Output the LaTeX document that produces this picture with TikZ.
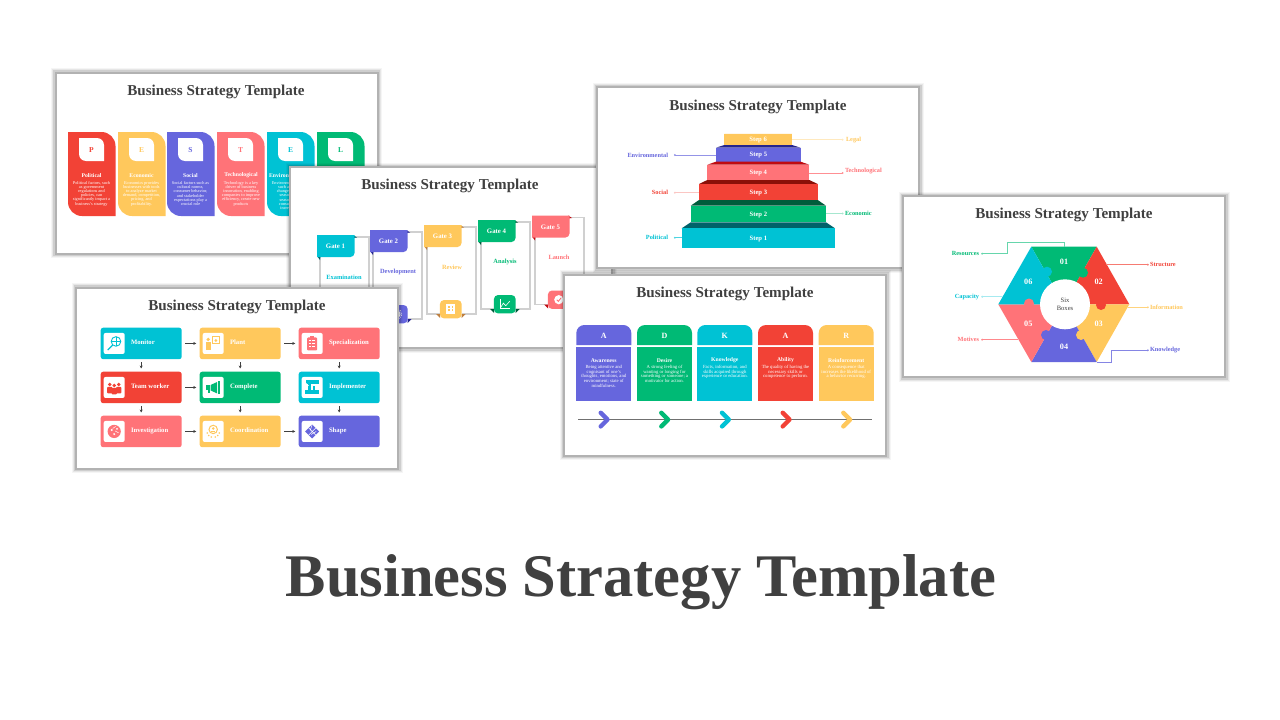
\documentclass[tikz,border=0pt]{standalone}
\usepackage{fontspec}
\setmainfont{Liberation Serif}
\usetikzlibrary{arrows.meta}
\definecolor{redfill}{HTML}{F24236}
\definecolor{yellowfill}{HTML}{FFC85C}
\definecolor{purplefill}{HTML}{6666DD}
\definecolor{pinkfill}{HTML}{FF7378}
\definecolor{cyanfill}{HTML}{00C2D4}
\definecolor{greenfill}{HTML}{00BA75}
\definecolor{navydark}{HTML}{24248F}
\definecolor{pinkdark}{HTML}{C00A10}
\definecolor{reddark}{HTML}{8B1008}
\definecolor{greendark}{HTML}{005C3C}
\definecolor{cyandark}{HTML}{00626A}
\definecolor{titlegrey}{HTML}{404040}
\definecolor{framegrey}{HTML}{B2B2B2}
\definecolor{railgrey}{HTML}{D0D0D0}
\newcommand{\px}[1]{\fontsize{#1}{#1}\selectfont}
\tikzset{
    every node/.style = {
        inner sep = 0pt,
        outer sep = 0pt
    },
    slide/.style = {
        preaction = {draw=black, opacity=0.04, line width=9pt},
        preaction = {draw=black, opacity=0.06, line width=7pt},
        preaction = {draw=black, opacity=0.10, line width=5pt},
        draw = framegrey,
        fill = white,
        line width = 2pt,
        minimum width = 322pt,
        minimum height = 181pt
    },
    slide title/.style = {
        text = titlegrey,
        font = \px{15.1}\bfseries
    },
    body text/.style = {
        text = white,
        align = center,
        font = \fontsize{4.3}{4.2}\selectfont
    },
    head text/.style = {
        text = white,
        font = \px{5.7}\bfseries
    },
    gridcard/.style = {
        rounded corners = 2.5pt,
        minimum width = 81pt,
        minimum height = 31.5pt
    },
    gridtile/.style = {
        fill = white,
        rounded corners = 2pt,
        minimum size = 21pt
    },
    gridlabel/.style = {
        anchor = west,
        text = white,
        font = \px{6.7}\bfseries
    },
    flow/.style = {
        -{Stealth[length=3pt,width=3pt]},
        line width = 0.6pt,
        titlegrey
    },
    tag/.style = {
        font = \px{6.3}\bfseries
    },
    tagline/.style = {
        {Circle[length=1.8pt]}-,
        line width = 0.7pt
    },
    rail/.style = {
        draw = railgrey,
        line width = 1.4pt
    }
}
\begin{document}
\begin{tikzpicture}[x=1pt, y=-1pt]
    \useasboundingbox (0,0) rectangle (1280,720);
    \fill[white] (0,0) rectangle (1280,720);

    % slide 1
    \node[slide] (slidePest) at (216.5,163) {};
    \node[slide title] (titlePest) at (216,92) {Business Strategy Template};
    \foreach \i/\x/\col/\ltr in {1/68/redfill/P, 2/118/yellowfill/E, 3/167/purplefill/S, 4/217/pinkfill/T, 5/267/cyanfill/E, 6/317/greenfill/L}{
        \fill[\col] (\x,132) [rounded corners=14pt] -- ({\x+47.5},132) [sharp corners] -- ({\x+47.5},216) [rounded corners=14pt] -- (\x,216) [sharp corners] -- cycle;
        \fill[white] ({\x+11},138) [rounded corners=7pt] -- ({\x+36},138) [sharp corners] -- ({\x+36},161) [rounded corners=7pt] -- ({\x+11},161) [sharp corners] -- cycle;
        \node[text=\col, font=\px{7.5}\bfseries] (letterPest\i) at ({\x+23.5},149.8) {\ltr};
    }
    \node[head text] (headPol) at (91.5,175.3) {Political};
    \node[head text] (headEco) at (141.5,175.3) {Economic};
    \node[head text] (headSoc) at (190.5,175.3) {Social};
    \node[head text] (headTec) at (241,175.3) {Technological};
    \node[head text, anchor=east] (headEnv) at (289,175.3) {Environ};
    \node[body text] (bodyPol) at (91.5,193.5) {Political factors, such\\as government\\regulations and\\policies, can\\significantly impact a\\business's strategy};
    \node[body text] (bodyEco) at (141.5,193.5) {Economics provides\\businesses with tools\\to analyze market\\demand, competition,\\pricing, and\\profitability.};
    \node[body text] (bodySoc) at (190.5,193.5) {Social factors such as\\cultural norms,\\consumer behavior,\\and stakeholder\\expectations play a\\crucial role};
    \node[body text] (bodyTec) at (241,193.5) {Technology is a key\\driver of business\\innovation, enabling\\companies to improve\\efficiency, create new\\products};
    \node[body text, anchor=east, align=right] (bodyEnv) at (289,195.5) {Environm\\such a\\change\\seaso\\seaso\\consu\\incre};

    % slide 2
    \node[slide] (slideGate) at (451,257.5) {};
    \node[slide title] (titleGate) at (450,186) {Business Strategy Template};
    \foreach \i/\x/\y/\col/\fold/\word/\wx in {
        1/317/235/cyanfill/cyandark/Examination/344,
        2/370/230/purplefill/navydark/Development/398,
        3/424/225/yellowfill/brown/Review/452,
        4/478/220/greenfill/greendark/Analysis/505,
        5/532/215.5/pinkfill/pinkdark/Launch/559}{
        \draw[rail] ({\x+36},{\y+2}) -- ({\x+52},{\y+2}) -- ({\x+52},{\y+89}) -- ({\x+38},{\y+89});
        \draw[rail] ({\x+3},{\y+21}) -- ({\x+3},{\y+89}) -- ({\x+16},{\y+89});
        \fill[\fold] ({\x+36},\y) -- ({\x+40},{\y+2.5}) -- ({\x+36},{\y+3}) -- cycle;
        \fill[\fold] (\x,{\y+21}) -- ({\x+3.5},{\y+21}) -- ({\x+3},{\y+25}) -- cycle;
        \fill[\fold] ({\x+16},{\y+89}) -- ({\x+12},{\y+89}) -- ({\x+16},{\y+93}) -- cycle;
        \fill[\fold] ({\x+37.5},{\y+89}) -- ({\x+41.5},{\y+89}) -- ({\x+37.5},{\y+93}) -- cycle;
        \fill[\col] (\x,\y) -- ({\x+37.5},\y) [rounded corners=4pt] -- ({\x+37.5},{\y+22}) [sharp corners] -- (\x,{\y+22}) -- cycle;
        \node[text=white, font=\px{6.8}\bfseries] (gate\i) at ({\x+18.5},{\y+11.3}) {Gate \i};
        \node[text=\col, font=\px{6.4}\bfseries] (gateWord\i) at (\wx,{\y+42.3}) {\word};
        \node[fill=\col, rounded corners=4pt, minimum width=21.7pt, minimum height=18.3pt] (gateTile\i) at ({\x+26.8},{\y+84.2}) {};
    }
    % gate icons
    \draw[white, line width=1pt] (gateTile2) circle (3.2pt);
    \draw[white, line width=0.8pt, densely dotted] (gateTile2) circle (5pt);
    \begin{scope}[shift={(gateTile3)}]
        \fill[white] (-4.5,-5) rectangle (4.5,5);
        \foreach \cx in {-2.5,1}{
            \fill[yellowfill] (\cx,-3) rectangle ++(1.5,1.5);
            \fill[yellowfill] (\cx,0) rectangle ++(1.5,1.5);
        }
    \end{scope}
    \begin{scope}[shift={(gateTile4)}]
        \draw[white, line width=0.5pt] (-5,-5) -- (-5,4.5) -- (5.5,4.5);
        \draw[white, line width=0.6pt] (-4,3) -- (-1.5,-1) -- (1,1.5) -- (5,-3);
    \end{scope}
    \begin{scope}[shift={(gateTile5)}]
        \fill[white] (0,0) circle (4.6pt);
        \draw[pinkfill, line width=0.9pt] (-2,0) -- (-0.5,1.7) -- (2.2,-1.7);
    \end{scope}

    % slide 4
    \node[slide] (slideStep) at (758,177.5) {};
    \node[slide title] (titleStep) at (758,107) {Business Strategy Template};
    \foreach \i/\bl/\br/\pl/\pr/\ya/\yb/\yc/\col/\dark in {
        6/724.3/792/724.3/792/133.7/133.7/145/yellowfill/yellowfill,
        5/716/800.7/724.3/792/145/147.7/161.7/purplefill/navydark,
        4/707.3/809.3/716/800.7/161.7/164.7/180/pinkfill/pinkdark,
        3/699/817.7/707.3/809.3/180/184/200/redfill/reddark,
        2/690.7/826/699/817.7/200/205.7/222.3/greenfill/greendark,
        1/681.7/835/690.7/826/222.3/228.3/247.7/cyanfill/cyandark}{
        \fill[\dark] (\pl,\ya) -- (\pr,\ya) -- (\br,\yb) -- (\bl,\yb) -- cycle;
        \node[fill=\col, minimum width={\br-\bl}, minimum height={\yc-\yb}] (step\i) at ({(\bl+\br)/2},{(\yb+\yc)/2}) {};
        \node[text=white, font=\px{6.6}\bfseries] (stepText\i) at ({(\bl+\br)/2},{(\yb+\yc)/2+0.7}) {Step \i};
    }
    \foreach \nm/\x/\y/\col in {Legal/846/139.7/yellowfill, Technological/845/171.5/pinkfill, Economic/845/213.3/greenfill}{
        \node[tag, anchor=west, text=\col] (label\nm) at (\x,\y) {\nm};
    }
    \foreach \nm/\y/\col in {Environmental/155/purplefill, Social/192.7/redfill, Political/237.7/cyanfill}{
        \node[tag, anchor=east, text=\col] (label\nm) at (668,\y) {\nm};
    }
    \coordinate (tagLegal) at (843.5,139.7);
    \coordinate (tagTech) at (843.5,173);
    \coordinate (tagEco) at (843.5,213.5);
    \coordinate (tagEnv) at (674,155);
    \coordinate (tagSoc) at (674,192.7);
    \coordinate (tagPol) at (674,237.7);
    \draw[tagline, yellowfill!40, line width=1pt] (tagLegal) -- (step6.east |- tagLegal);
    \draw[tagline, pinkfill!80] (tagTech) -- (step4.east |- tagTech);
    \draw[tagline, greenfill!35, line width=1.2pt] (tagEco) -- (step2.east |- tagEco);
    \draw[tagline, purplefill!70] (tagEnv) -- (step5.west |- tagEnv);
    \draw[tagline, redfill!30, line width=1.2pt] (tagSoc) -- (step3.west |- tagSoc);
    \draw[tagline, cyanfill!70] (tagPol) -- (step1.west |- tagPol);

    % slide 3
    \node[slide] (slideGrid) at (237,378) {};
    \node[slide title] (titleGrid) at (237,307) {Business Strategy Template};
    \foreach \nm/\x/\y/\col/\txt in {
        cardMon/100.7/327.7/cyanfill/Monitor,
        cardPla/199.7/327.7/yellowfill/Plant,
        cardSpe/298.7/327.7/pinkfill/Specialization,
        cardTea/100.7/371.7/redfill/Team worker,
        cardCom/199.7/371.7/greenfill/Complete,
        cardImp/298.7/371.7/cyanfill/Implementer,
        cardInv/100.7/415.7/pinkfill/Investigation,
        cardCoo/199.7/415.7/yellowfill/Coordination,
        cardSha/298.7/415.7/purplefill/Shape}{
        \node[gridcard, fill=\col] (\nm) at ({\x+40.5},{\y+15.75}) {};
        \node[gridtile] (\nm Tile) at ({\x+13.5},{\y+15.75}) {};
        \node[gridlabel] (\nm Text) at ({\x+30.3},{\y+15}) {\txt};
    }
    \foreach \a/\b in {cardMon/cardPla, cardPla/cardSpe, cardTea/cardCom, cardInv/cardCoo, cardCoo/cardSha}{
        \draw[flow, shorten <=3.4pt, shorten >=3.4pt] (\a) -- (\b);
    }
    \foreach \a/\b in {cardMon/cardTea, cardPla/cardCom, cardSpe/cardImp, cardTea/cardInv, cardCom/cardCoo, cardImp/cardSha}{
        \draw[flow, shorten <=3.2pt, shorten >=3.2pt] (\a) -- (\b);
    }
    % grid icons
    \begin{scope}[shift={(cardMonTile)}]
        \draw[cyanfill, line width=0.9pt] (1.8,-2) circle (4.8pt);
        \draw[cyanfill, line width=0.5pt] (-3,-2) -- (6.6,-2) (1.8,-6.8) -- (1.8,2.8);
        \draw[cyanfill, line width=1.2pt] (-1.6,1.6) -- (-6.5,6.5);
    \end{scope}
    \begin{scope}[shift={(cardPlaTile)}]
        \fill[yellowfill] (-5,-4) circle (1.8pt);
        \fill[yellowfill] (-7,-1.5) rectangle (-2.5,7);
        \draw[yellowfill, line width=1pt] (-1,-6.5) rectangle (6.5,0.5);
        \fill[yellowfill] (2.7,-3) circle (1.5pt);
    \end{scope}
    \begin{scope}[shift={(cardSpeTile)}]
        \fill[pinkfill, rounded corners=1pt] (-5,-6) rectangle (5,7);
        \fill[pinkfill] (-2,-7.5) rectangle (2,-5);
        \foreach \ly in {-3,0,3}{
            \draw[white, line width=0.7pt] (-3,\ly) -- (-1.5,\ly) (0,\ly) -- (3,\ly);
        }
    \end{scope}
    \begin{scope}[shift={(cardTeaTile)}]
        \foreach \hx/\hy in {-4.5/-3, 4.5/-3, 0/-2}{
            \fill[redfill] (\hx,\hy) circle (1.9pt);
            \fill[redfill, rounded corners=1pt] ({\hx-2.6},{\hy+2.3}) rectangle ({\hx+2.6},{\hy+9});
        }
    \end{scope}
    \begin{scope}[shift={(cardComTile)}]
        \fill[greenfill] (-7,-2.2) rectangle (-3.5,2.8);
        \fill[greenfill] (-2.6,-2.5) -- (4,-5.5) -- (4,6) -- (-2.6,3) -- cycle;
        \fill[greenfill] (5,-6) rectangle (6.5,6.5);
        \fill[greenfill] (-5.5,2.8) rectangle (-3.5,6);
    \end{scope}
    \begin{scope}[shift={(cardImpTile)}]
        \fill[cyanfill] (-6.5,-7) rectangle (6.5,-3.5);
        \fill[cyanfill] (-4,-3.5) rectangle (-1.5,3);
        \fill[cyanfill] (0.5,-1.5) rectangle (3,3);
        \fill[cyanfill] (-7,3) rectangle (7,6.5);
        \fill[white] (-7,-5.3) -- (-3,-1.5) -- (-6.5,-1.5) -- cycle;
    \end{scope}
    \begin{scope}[shift={(cardInvTile)}]
        \fill[pinkfill] (0,0) circle (6.6pt);
        \fill[white] (-2.5,-1.5) circle (1.1pt) (0,2.6) circle (1.1pt) (2.8,-2.6) circle (0.9pt);
        \draw[white, line width=0.5pt] (1,-0.5) -- (4.5,1.5) (-1.5,-3) -- (1.5,-5);
    \end{scope}
    \begin{scope}[shift={(cardCooTile)}]
        \draw[yellowfill, line width=1pt] (0,-2) circle (4.2pt);
        \fill[yellowfill] (0,-3) circle (1.4pt);
        \fill[yellowfill] (-2.2,-0.2) rectangle (2.2,1);
        \foreach \dx/\dy in {-6/1.5, -4.5/4, -2/5.5, 2/5.5, 4.5/4, 6/1.5}{
            \fill[yellowfill] (\dx,\dy) circle (0.9pt);
        }
    \end{scope}
    \begin{scope}[shift={(cardShaTile)}]
        \fill[purplefill] (0,-7) -- (7,0) -- (0,7) -- (-7,0) -- cycle;
        \draw[white, line width=0.5pt] (-3.5,-3.5) -- (3.5,3.5) (3.5,-3.5) -- (-3.5,3.5) (0,-7) -- (-2,-1) (-1,3) -- (4,0);
    \end{scope}

    % slide 5
    \node[slide] (slideAida) at (725,365) {};
    \node[slide title] (titleAida) at (725,294) {Business Strategy Template};
    \foreach \i/\x/\col/\ltr/\head/\body in {
        1/576.3/purplefill/A/Awareness/{Being attentive and\\cognisant of one's\\thoughts, emotions, and\\environment; state of\\mindfulness.},
        2/637/greenfill/D/Desire/{A strong feeling of\\wanting or longing for\\something or someone; a\\motivator for action.},
        3/697.3/cyanfill/K/Knowledge/{Facts, information, and\\skills acquired through\\experience or education.},
        4/758/redfill/A/Ability/{The quality of having the\\necessary skills or\\competence to perform.},
        5/818.7/yellowfill/R/Reinforcement/{A consequence that\\increases the likelihood of\\a behavior recurring.}}{
        \fill[\col] (\x,345) [rounded corners=8pt] -- (\x,325) -- ({\x+55},325) [sharp corners] -- ({\x+55},345) -- cycle;
        \node[text=white, font=\px{8}\bfseries] (aidaLetter\i) at ({\x+27.5},335.8) {\ltr};
        \node[fill=\col, minimum width=55pt, minimum height=54pt] (aidaBody\i) at ({\x+27.5},374.3) {};
        \node[head text] (aidaHead\i) at ({\x+27.5},360.5) {\head};
        \node[body text, anchor=north, font=\fontsize{4.7}{4.8}\selectfont] (aidaText\i) at ({\x+27.5},365) {\body};
    }
    \coordinate (railStart) at (578,419.3);
    \coordinate (railEnd) at (872,419.3);
    \draw[titlegrey!75, line width=0.8pt] (railStart) -- (railEnd);
    \foreach \x/\col in {603.7/purplefill, 664.3/greenfill, 725/cyanfill, 785.7/redfill, 846.3/yellowfill}{
        \draw[\col, line width=4.4pt, line cap=round, line join=round] ({\x-3},412.8) -- ({\x+3.8},419.6) -- ({\x-3},426.4);
    }

    % slide 6
    \node[slide] (slideHex) at (1064,286.5) {};
    \node[slide title] (titleHex) at (1064,215) {Business Strategy Template};
    \coordinate (hexC) at (1064,304.3);
    \coordinate (hexTL) at (1031.3,246.7);
    \coordinate (hexTR) at (1096.7,246.7);
    \coordinate (hexR) at (1129.3,304.3);
    \coordinate (hexBR) at (1096.7,362);
    \coordinate (hexBL) at (1031.3,362);
    \coordinate (hexL) at (998.3,304.3);
    \coordinate (hexTop) at (1064.3,246.7);
    \foreach \a/\b/\col in {hexTL/hexTR/greenfill, hexTR/hexR/redfill, hexR/hexBR/yellowfill, hexBR/hexBL/purplefill, hexBL/hexL/pinkfill, hexL/hexTL/cyanfill}{
        \fill[\col] (hexC) -- (\a) -- (\b) -- cycle;
    }
    \foreach \x/\y/\col in {1083/272.7/greenfill, 1101/305/redfill, 1081/335/yellowfill, 1046/335/purplefill, 1029/303.5/pinkfill, 1047/271.7/cyanfill}{
        \fill[\col] (\x,\y) circle (5pt);
    }
    \node[circle, fill=white, minimum size=50pt, align=center, text=titlegrey, font=\fontsize{6.6}{8}\selectfont] (hexHub) at (1065,304.3) {Six\\Boxes};
    \foreach \n/\x/\y in {01/1064/261.7, 02/1098.7/282.3, 03/1098.7/324, 04/1064/346.7, 05/1028.3/324, 06/1028.3/282.3}{
        \node[text=white, font=\px{8.2}\bfseries] (hexNum\n) at (\x,\y) {\n};
    }
    \coordinate (tagRes) at (981.3,253.7);
    \coordinate (tagCap) at (981.3,296.7);
    \coordinate (tagMot) at (981.3,339.7);
    \coordinate (tagStr) at (1148.7,264.7);
    \coordinate (tagInf) at (1148.7,307.3);
    \coordinate (tagKno) at (1148.7,350.3);
    \node[tag, anchor=east, text=greenfill] (labelRes) at (979,253.7) {Resources};
    \node[tag, anchor=east, text=cyanfill] (labelCap) at (979,296.7) {Capacity};
    \node[tag, anchor=east, text=pinkfill] (labelMot) at (979,339.7) {Motives};
    \node[tag, anchor=west, text=redfill] (labelStr) at (1150,264.7) {Structure};
    \node[tag, anchor=west, text=yellowfill] (labelInf) at (1150,307.3) {Information};
    \node[tag, anchor=west, text=purplefill] (labelKno) at (1150,350.3) {Knowledge};
    \draw[tagline, greenfill!60] (tagRes) -- ++(26,0) -- ++(0,-11.4) -| (hexTop);
    \draw[tagline, cyanfill!35, line width=1.1pt] (tagCap) -- (1003,296.7);
    \draw[tagline, pinkfill!85] (tagMot) -- (1018,339.7);
    \draw[tagline, redfill!70] (tagStr) -- (1106.3,264.7);
    \draw[tagline, yellowfill!80] (tagInf) -- (1128,307.3);
    \draw[tagline, purplefill!80] (tagKno) -- ++(-37.7,0) |- (hexBR);

    % big title
    \node[text=titlegrey, font=\px{60.5}\bfseries] (mainTitle) at (641,582) {Business Strategy Template};
\end{tikzpicture}
\end{document}
